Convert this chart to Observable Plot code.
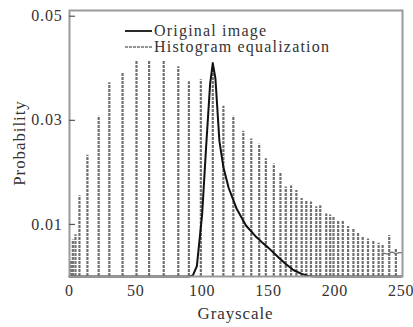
<!DOCTYPE html>
<html>
<head>
<meta charset="utf-8">
<script src="https://cdn.jsdelivr.net/npm/d3@7"></script>
<script src="https://cdn.jsdelivr.net/npm/@observablehq/plot@0.6"></script>
<style>
  html, body { margin: 0; padding: 0; background: #fff; }
  svg text { font-family: "Liberation Serif", "Times New Roman", serif; }
</style>
</head>
<body>
<div id="chart"></div>
<script>
// Original image histogram (grayscale, probability)
const origGray = [0, 90, 93, 96, 100, 103, 106, 108, 110, 113, 116, 120, 126, 133, 140, 145, 150, 157, 163, 169, 175, 180, 185, 250];
const origProb = [0, 0, 0.0002, 0.002, 0.012, 0.025, 0.037, 0.041, 0.038, 0.026, 0.021, 0.017, 0.013, 0.0098, 0.0078, 0.0066, 0.0055, 0.0038, 0.0024, 0.0012, 0.0005, 0.0001, 0, 0];

// Histogram equalization spikes (grayscale, probability)
const eqGray = [1, 2.5, 4.5, 7.5, 13.5, 22, 30, 40, 50.5, 60, 71, 82, 90, 99, 108, 116, 123.5, 131, 137, 143, 148, 154, 159, 163, 167, 171, 175, 178.5, 182, 186, 189, 193.5, 196.5, 199, 202.5, 206, 210, 214, 217.5, 221, 225, 229, 233, 236, 241, 246];
const eqProb = [0.003, 0.007, 0.008, 0.0155, 0.0233, 0.0308, 0.0372, 0.039, 0.0413, 0.0413, 0.0413, 0.0403, 0.0374, 0.0378, 0.040, 0.0327, 0.0308, 0.0279, 0.0264, 0.0254, 0.0226, 0.0216, 0.020, 0.0172, 0.0174, 0.0165, 0.015, 0.0146, 0.0143, 0.0134, 0.0136, 0.012, 0.0118, 0.0115, 0.0106, 0.0106, 0.0096, 0.0092, 0.0083, 0.0077, 0.0072, 0.0068, 0.0064, 0.006, 0.0079, 0.0054];
// flat tail of the equalized histogram
const tailGray = [236, 240, 243, 246, 249, 251];
const tailProb = [0.0045, 0.0043, 0.0047, 0.0044, 0.0046, 0.0045];

const yTicks = [0.01, 0.03, 0.05];
const xTicks = [0, 50, 100, 150, 200, 250];
const legendLabels = ["Original image", "Histogram equalization"];

const orig = origGray.map((g, i) => ({g, p: origProb[i]}));
const eq = eqGray.map((g, i) => ({g, p: eqProb[i]}));
const tail = tailGray.map((g, i) => ({g, p: tailProb[i]}));

const eqStyle = {stroke: "#707070", strokeWidth: 2.2, strokeDasharray: "3,1"};

const chart = Plot.plot({
  width: 413,
  height: 327,
  marginLeft: 69,
  marginRight: 11,
  marginTop: 10,
  marginBottom: 51,
  style: {fontFamily: "'Liberation Serif', serif", background: "#fff"},
  x: {domain: [0, 251]},
  y: {domain: [0, 0.0511]},
  marks: [
    Plot.ruleX(eq, {x: "g", y1: 0, y2: "p", ...eqStyle}),
    Plot.line(tail, {x: "g", y: "p", ...eqStyle, strokeWidth: 1.3}),
    Plot.line(orig, {x: "g", y: "p", stroke: "#111", strokeWidth: 2}),
    Plot.frame({stroke: "#9a9a9a", strokeWidth: 2}),
    Plot.ruleY(yTicks, {y: d => d, x1: 0, x2: 4.5, stroke: "#555", strokeWidth: 1.2}),
    Plot.axisY(yTicks, {tickSize: 0, tickPadding: 7, label: null, tickFormat: d => d.toFixed(2), fontSize: 16, fill: "#333"}),
    Plot.axisX(xTicks, {tickSize: 0, tickPadding: 8, label: null, fontSize: 16, fill: "#333"})
  ]
});

document.getElementById("chart").appendChild(chart);

const svg = d3.select(chart);
svg.selectAll("g[aria-label='y-axis tick label'] text, g[aria-label='x-axis tick label'] text")
  .style("letter-spacing", "0.8px");

// axis titles
svg.append("text")
  .attr("x", 235.5).attr("y", 319)
  .attr("text-anchor", "middle")
  .attr("font-size", 17).attr("letter-spacing", "0.9px").attr("fill", "#333")
  .text("Grayscale");
svg.append("text")
  .attr("transform", "translate(25,143) rotate(-90)")
  .attr("text-anchor", "middle")
  .attr("font-size", 17).attr("letter-spacing", "0.9px").attr("fill", "#333")
  .text("Probability");

// legend
const lg = svg.append("g");
lg.append("line").attr("x1", 125).attr("x2", 152).attr("y1", 31).attr("y2", 31)
  .attr("stroke", "#111").attr("stroke-width", 1.8);
lg.append("line").attr("x1", 125).attr("x2", 152).attr("y1", 47).attr("y2", 47)
  .attr("stroke", eqStyle.stroke).attr("stroke-width", 1.5).attr("stroke-dasharray", eqStyle.strokeDasharray);
legendLabels.forEach((t, i) => {
  lg.append("text").attr("x", 154).attr("y", 36 + 16 * i)
    .attr("text-anchor", "start")
    .attr("font-size", 16).attr("letter-spacing", "1.2px").attr("fill", "#333")
    .text(t);
});
</script>
</body>
</html>
